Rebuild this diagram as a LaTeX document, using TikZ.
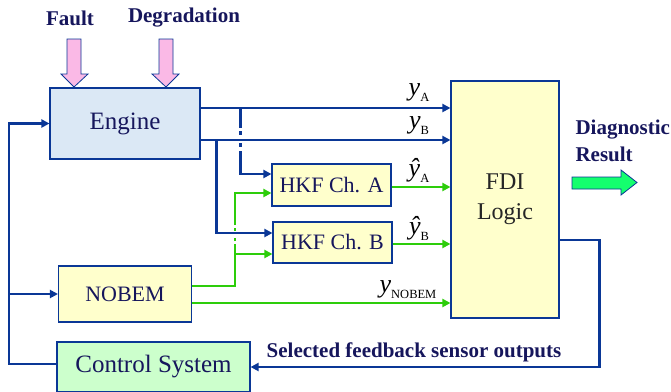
\documentclass[tikz,border=0pt]{standalone}
\usepackage{fontspec}
\setmainfont{Liberation Serif}
\usepackage{xcolor}
\definecolor{fdinavy}{RGB}{22,22,92}
\definecolor{fdiblue}{RGB}{10,55,150}
\definecolor{fdigreen}{RGB}{45,205,10}
\definecolor{fdisky}{RGB}{219,232,245}
\definecolor{fdicream}{RGB}{255,255,204}
\definecolor{fdimint}{RGB}{204,255,204}
\definecolor{fdipink}{RGB}{250,185,230}
\definecolor{fdilime}{RGB}{20,255,110}
\usepackage{tikz}
\usetikzlibrary{arrows.meta,positioning,calc}
\newcommand{\fdisub}[1]{\raisebox{-0.5ex}{\fontsize{12.5}{13}\selectfont #1}}

\begin{document}
\begin{tikzpicture}[x=1pt, y=-1pt,
  blk/.style={draw=fdiblue, line width=1.1pt, inner sep=0pt, text=fdinavy},
  bus/.style={draw=fdiblue, line width=2.4pt, -{Triangle[length=8pt,width=8pt]}},
  sig/.style={draw=fdigreen, line width=2.4pt, -{Triangle[length=8pt,width=8pt]}},
  note/.style={font=\fontsize{21}{27}\selectfont\bfseries, text=fdinavy},
  sym/.style={font=\fontsize{26}{28}\selectfont, inner sep=0pt}]
\useasboundingbox (0,0) rectangle (671,391);
\clip (0,0) rectangle (671,391);
% Blocks
\node[blk, fill=fdisky, minimum width=150, minimum height=71, font=\fontsize{25}{28}\selectfont] (engine) at (125,123.5) {Engine};
\node[blk, fill=fdicream, minimum width=119, minimum height=42, font=\fontsize{22}{24}\selectfont] (hkfA) at (331.5,185) {HKF Ch. A};
\node[blk, fill=fdicream, minimum width=119, minimum height=41, font=\fontsize{22}{24}\selectfont] (hkfB) at (332.5,242.5) {HKF Ch. B};
\node[blk, fill=fdicream, minimum width=133, minimum height=56, font=\fontsize{22}{24}\selectfont] (nobem) at (125,294) {NOBEM};
\node[blk, fill=fdicream, minimum width=108, minimum height=237, text=black!85, align=center, font=\fontsize{24}{30}\selectfont] (fdi) at (505,199.5) {FDI\\Logic};
\node[blk, fill=fdimint, minimum width=193, minimum height=50, font=\fontsize{25}{28}\selectfont] (ctrl) at (153.5,367) {Control System};
% Inputs to the engine
\node[note] (fault) at (70,18) {Fault};
\node[note] (degr) at (184,18) {Degradation};
\draw[fdiblue, line width=0.8pt, fill=fdipink] (67,39) -- (81,39) -- (81,74) -- (88,74) -- (74,87) -- (61,74) -- (67,74) -- cycle;
\draw[fdiblue, line width=0.8pt, fill=fdipink] (159,39) -- (173,39) -- (173,74) -- (179,74) -- (166,87) -- (152,74) -- (159,74) -- cycle;
% Measured outputs
\coordinate (eA) at ($(engine.east)+(0,-15.5)$);
\coordinate (eB) at ($(engine.east)+(0,16.5)$);
\draw[bus] (eA) -- (eA -| fdi.west);
\draw[bus] (eB) -- (eB -| fdi.west);
\coordinate (jA) at ($(eA)+(40,0)$);
\coordinate (jB) at ($(eB)+(16,0)$);
\draw[bus, dash pattern=on 20pt off 3pt on 4pt off 8pt on 4pt off 4pt on 300pt] (jA) |- ($(hkfA.west)+(0,-11)$);
\draw[bus] (jB) |- ($(hkfB.west)+(0,-9.5)$);
% NOBEM outputs
\coordinate (nA) at ($(nobem.east)+(0,-8)$);
\coordinate (nB) at ($(nobem.east)+(0,9)$);
\coordinate (gj) at ($(nA)+(43,0)$);
\draw[sig, dash pattern=on 85pt off 3pt on 3pt off 7pt on 3pt off 3pt on 300pt] (nA) -- (gj) |- ($(hkfA.west)+(0,8)$);
\draw[sig] (gj |- hkfB.west) ++(0,11.5) -- ($(hkfB.west)+(0,11.5)$);
\draw[sig] (nB) -- (nB -| fdi.west);
% Estimated outputs
\draw[sig] ($(hkfA.east)+(0,2)$) -- ($(hkfA.east -| fdi.west)+(0,2)$);
\draw[sig] ($(hkfB.east)+(0,1.5)$) -- ($(hkfB.east -| fdi.west)+(0,1.5)$);
% Signal labels
\node[sym] (lyA) at (419,93) {\textit{y}\fdisub{A}};
\node[sym] (lyB) at (419,126) {\textit{y}\fdisub{B}};
\node[sym] (lhA) at (419,170) {\textit{ŷ}\fdisub{A}};
\node[sym] (lhB) at (419,228) {\textit{ŷ}\fdisub{B}};
\node[sym] (lyN) at (408,290) {\textit{y}\fdisub{NOBEM}};
% Feedback loop
\coordinate (fb) at ($(fdi.east)+(0,40.5)$);
\draw[bus] (fb) -- ++(40,0) |- (ctrl.east);
\node[note] (fbl) at (414,352) {Selected feedback sensor outputs};
\coordinate (loop) at ($(ctrl.west)+(-47.5,-3)$);
\draw[bus] ($(ctrl.west)+(0,-3)$) -- (loop) |- (engine.west);
\draw[bus] (loop |- nobem.west) -- (nobem.west);
% Result
\node[note, anchor=west, align=left] (diag) at (572,141) {Diagnostic\\Result};
\draw[fdiblue, line width=0.8pt, fill=fdilime] (572,177) -- (621,177) -- (621,170) -- (637,182.5) -- (621,195) -- (621,189) -- (572,189) -- cycle;
\end{tikzpicture}
\end{document}
